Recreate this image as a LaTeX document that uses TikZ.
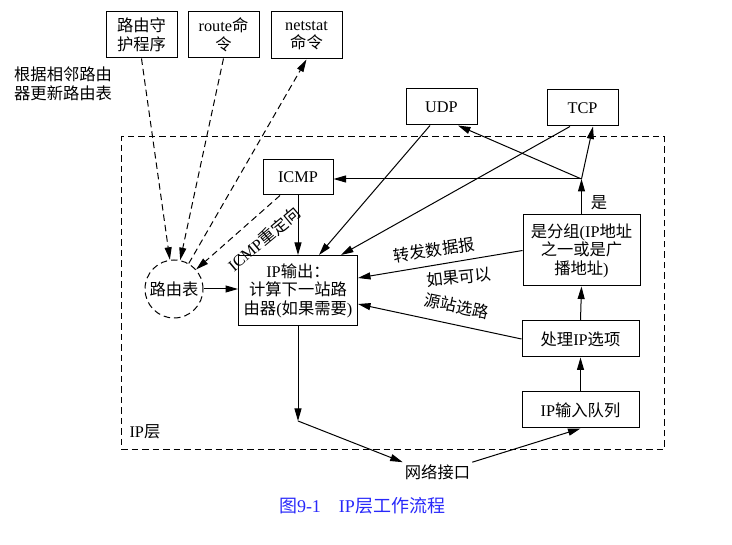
\documentclass[tikz,border=0pt]{standalone}
\usepackage{fontspec}
\setmainfont{Liberation Serif}
\newfontfamily\cjk{Noto Sans CJK SC}
\newcommand\zh[1]{{\cjk #1}}
\usetikzlibrary{arrows.meta}
\definecolor{capblue}{RGB}{40,40,250}
\begin{document}
\begin{tikzpicture}[x=1pt,y=-1pt,
  every node/.style={font=\fontsize{16.3}{18.5}\selectfont},
  box/.style={draw, line width=1pt, align=center, inner sep=0pt},
  tip/.style={-{Triangle[length=12.5pt,width=7pt]}},
  arr/.style={line width=1pt, tip},
  dsh/.style={line width=1pt, dash pattern=on 6.5pt off 4pt}]
\useasboundingbox (0,0) rectangle (732,545);

% IP layer region
\node[dsh, draw, minimum width=543, minimum height=313, inner sep=0pt] (layer) at (392.5,293.5) {};
\node[anchor=west] (lay) at (126,432) {IP\zh{层}};

% top boxes
\node[box, minimum width=71, minimum height=46] (rd) at (141.5,35) {\zh{路由守}\\\zh{护程序}};
\node[box, minimum width=71, minimum height=46] (rc) at (223.5,35) {route\zh{命}\\\zh{令}};
\node[box, minimum width=71, minimum height=47] (ns) at (306.5,35.5) {netstat\\\zh{命令}};
\node[align=left, anchor=west, inner sep=0pt] (note) at (14,84) {\zh{根据相邻路由}\\\zh{器更新路由表}};

\node[box, minimum width=71, minimum height=36] (udp) at (441.5,107) {UDP};
\node[box, minimum width=71, minimum height=36] (tcp) at (582.5,108) {TCP};

\node[box, minimum width=70, minimum height=35] (icmp) at (298,177.5) {ICMP};
\node[box, minimum width=119, minimum height=70] (out) at (298,290.5) {IP\zh{输出：}\\\zh{计算下一站路}\\\zh{由器}(\zh{如果需要})};
\node[draw, dsh, circle, minimum size=58, inner sep=0pt] (rt) at (174,289) {\zh{路由表}};

\node[box, minimum width=117, minimum height=71] (dest) at (581.5,250.5) {\zh{是分组}(IP\zh{地址}\\\zh{之一或是广}\\\zh{播地址})};
\node[box, minimum width=117, minimum height=36] (opt) at (580.5,339) {\zh{处理}IP\zh{选项}};
\node[box, minimum width=117, minimum height=36] (inq) at (580.5,410) {IP\zh{输入队列}};

\node[inner sep=2pt] (net) at (437.5,472) {\zh{网络接口}};

\coordinate (J) at (581.5,179);
\coordinate (B) at (298,421);

% labels
\node (yes) at (599,203) {\zh{是}};
\node[rotate=40, inner sep=0pt] (redir) at (264,239) {ICMP\zh{重定向}};
\node[rotate=9] (fwd) at (434,250) {\zh{转发数据报}};
\node[rotate=6] (ifok) at (459,277) {\zh{如果可以}};
\node[rotate=-12] (srr) at (457,306) {\zh{源站选路}};

\node[text=capblue, font=\fontsize{18}{20}\selectfont] (cap) at (362,506) {\zh{图}9-1\hspace{1em}IP\zh{层工作流程}};

% dashed connectors
\draw[dsh, tip] (rd.south) -- (rt);
\draw[dsh, tip] (rc.south) -- (rt);
\draw[dsh, tip] (rt) -- (ns.south);
\draw[dsh, tip] ([xshift=-18pt]icmp.south) -- (rt);

% solid connectors
\draw[arr] (rt) -- (rt -| out.west);
\draw[arr] (icmp.south) -- (out.north);
\draw[arr] ([xshift=-11.5pt]udp.south) -- ([xshift=21pt]out.north);
\draw[arr] ([xshift=-12.5pt]tcp.south) -- ([xshift=43pt]out.north);
\draw[arr] (J) -- (J -| icmp.east);
\draw[arr] (J) -- ([xshift=16.5pt]udp.south);
\draw[arr] (J) -- ([xshift=10.5pt]tcp.south);
\draw[arr] (dest.north) -- (J);
\draw[arr] (dest.west) -- ([yshift=12.5pt]out.east);
\draw[arr] (opt.west) -- ([yshift=-13.5pt]out.east);
\draw[arr] (opt.north) -- (dest.south);
\draw[arr] (inq.north) -- (opt.south);
\draw[arr] (out.south) -- (B);
\draw[arr] (B) -- (net.north west);
\draw[arr] (net.north east) -- (inq.south);
\end{tikzpicture}
\end{document}
